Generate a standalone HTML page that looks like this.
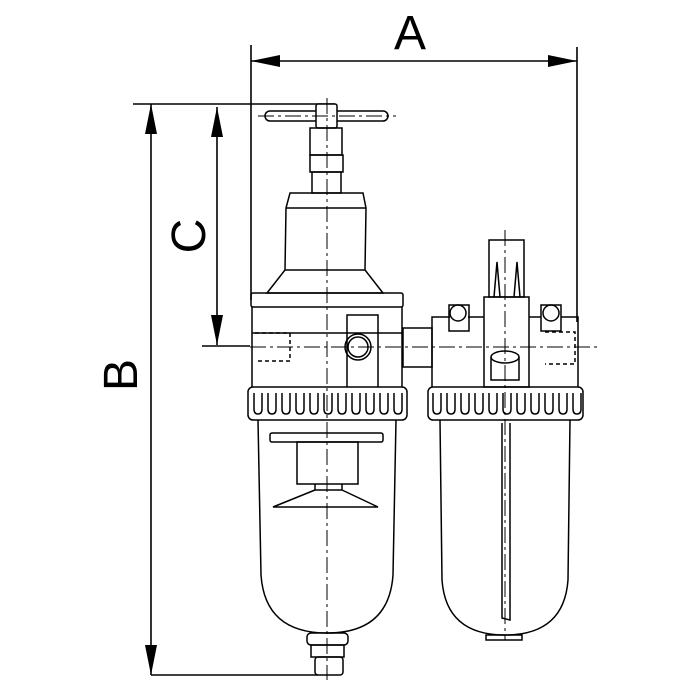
<!DOCTYPE html>
<html><head><style>html,body{margin:0;padding:0;background:#fff}svg{display:block}</style></head>
<body>
<svg width="700" height="700" viewBox="0 0 700 700" xmlns="http://www.w3.org/2000/svg" font-family="Liberation Sans, sans-serif">
<g stroke="#000" fill="none" stroke-width="1.6">
<line x1="251" y1="45" x2="251" y2="300"/>
<line x1="577" y1="47" x2="577" y2="322"/>
<line x1="251" y1="61" x2="577" y2="61"/>
<line x1="133" y1="104" x2="335" y2="104"/>
<line x1="151" y1="104" x2="151" y2="675"/>
<line x1="151" y1="675" x2="318" y2="675"/>
<line x1="217" y1="107" x2="217" y2="345"/>
<line x1="202" y1="346" x2="250" y2="346"/>
</g>
<g fill="#000">
<polygon points="251,61 280,55 280,67"/>
<polygon points="577,61 548,55 548,67"/>
<polygon points="151,104 145,134 157,134"/>
<polygon points="151,675 145,645 157,645"/>
<polygon points="217,107 211,137 223,137"/>
<polygon points="217,345 211,315 223,315"/>
</g>
<text x="410" y="49" font-size="48" text-anchor="middle">A</text>
<text transform="translate(137,375) rotate(-90)" font-size="48" text-anchor="middle">B</text>
<text transform="translate(205,236) rotate(-90)" font-size="48" text-anchor="middle">C</text>

<g stroke="#000" fill="none" stroke-width="1.5">
<rect x="265" y="111" width="123" height="10" rx="5"/>
<rect x="316" y="104" width="21" height="24" rx="2" fill="#fff"/>
<rect x="310" y="128" width="32" height="27"/>
<rect x="310" y="155" width="33" height="17"/>
<rect x="312" y="172" width="29" height="21"/>
<path d="M290,193 L363,193 L366,208 L365,270 L383,293 L267,293 L285,270 L286,208 Z"/>
<line x1="286" y1="208" x2="366" y2="208"/>
<line x1="285" y1="270" x2="365" y2="270"/>
<rect x="251" y="293" width="152" height="14" rx="2"/>
<path d="M252,307 L252,387 M402,307 L402,387"/>
<path d="M347,387 L347,315 L378,315 L378,387"/>
<circle cx="358" cy="347" r="13"/>
<circle cx="358" cy="347" r="10"/>
<path d="M255,333 L290,333 L290,361 L255,361" stroke-dasharray="4,3"/>
<line x1="252" y1="333" x2="402" y2="333"/>
<rect x="403" y="328" width="29" height="39"/>
<path d="M432,387 L432,317 L450,317 M468,317 L484,317 M529,317 L541,317 M561,317 L578,317 L578,387"/>
<rect x="449" y="305" width="20" height="26"/>
<circle cx="458" cy="313" r="8"/>
<rect x="541" y="305" width="20" height="26"/>
<circle cx="551" cy="313" r="8"/>
<rect x="484" y="297" width="45" height="90"/>
<rect x="489" y="240" width="35" height="57"/>
<path d="M494,297 L497,262 L500,297 M514,297 L517,262 L520,297"/>
<ellipse cx="505" cy="357" rx="14" ry="6"/>
<path d="M491,357 L491,380 L519,380 L519,357"/>
<path d="M545,332 L575,332 L575,364 L545,364" stroke-dasharray="4,3"/>
<rect x="248" y="387" width="159" height="33" rx="5"/>
<rect x="428" y="387" width="155" height="33" rx="5"/>
<path d="M248,393 m6,0 l0,16 q0,5 4,5 q4,0 4,-5 l0,-16 m6,0 l0,16 q0,5 4,5 q4,0 4,-5 l0,-16 m6,0 l0,16 q0,5 4,5 q4,0 4,-5 l0,-16 m6,0 l0,16 q0,5 4,5 q4,0 4,-5 l0,-16 m6,0 l0,16 q0,5 4,5 q4,0 4,-5 l0,-16 m6,0 l0,16 q0,5 4,5 q4,0 4,-5 l0,-16 m6,0 l0,16 q0,5 4,5 q4,0 4,-5 l0,-16 m6,0 l0,16 q0,5 4,5 q4,0 4,-5 l0,-16 m6,0 l0,16 q0,5 4,5 q4,0 4,-5 l0,-16 m6,0 l0,16 q0,5 4,5 q4,0 4,-5 l0,-16 m6,0 l0,16 q0,5 4,5 q4,0 4,-5 l0,-16"/>
<path d="M427,393 m6,0 l0,16 q0,5 4,5 q4,0 4,-5 l0,-16 m6,0 l0,16 q0,5 4,5 q4,0 4,-5 l0,-16 m6,0 l0,16 q0,5 4,5 q4,0 4,-5 l0,-16 m6,0 l0,16 q0,5 4,5 q4,0 4,-5 l0,-16 m6,0 l0,16 q0,5 4,5 q4,0 4,-5 l0,-16 m6,0 l0,16 q0,5 4,5 q4,0 4,-5 l0,-16 m6,0 l0,16 q0,5 4,5 q4,0 4,-5 l0,-16 m6,0 l0,16 q0,5 4,5 q4,0 4,-5 l0,-16 m6,0 l0,16 q0,5 4,5 q4,0 4,-5 l0,-16 m6,0 l0,16 q0,5 4,5 q4,0 4,-5 l0,-16 m6,0 l0,16 q0,5 4,5 q4,0 4,-5 l0,-16"/>
<path d="M258,420 L261,575 Q265,633 327,633 Q389,633 393,575 L396,420"/>
<rect x="270" y="433" width="113" height="9" rx="2"/>
<rect x="297" y="442" width="61" height="42"/>
<path d="M315,484 L315,490 L342,490 L342,484 M315,490 L273,507 L378,507 L342,490"/>
<rect x="307" y="633" width="41" height="12" rx="4"/>
<rect x="311" y="645" width="33" height="12"/>
<rect x="315" y="657" width="28" height="18" rx="3"/>
<path d="M440,420 L442,580 Q446,635 505,635 Q564,635 568,580 L570,420"/>
<rect x="486" y="635" width="36" height="5"/>
<path d="M502,423 L502,618 L510,620 L510,423"/>
</g>
<g stroke="#000" fill="none" stroke-width="1" stroke-dasharray="16,4,3,4">
<line x1="327" y1="98" x2="327" y2="680"/>
<line x1="505" y1="230" x2="505" y2="640"/>
<line x1="250" y1="347" x2="598" y2="347"/>
<line x1="258" y1="116" x2="396" y2="116"/>
</g>
</svg>
</body></html>
